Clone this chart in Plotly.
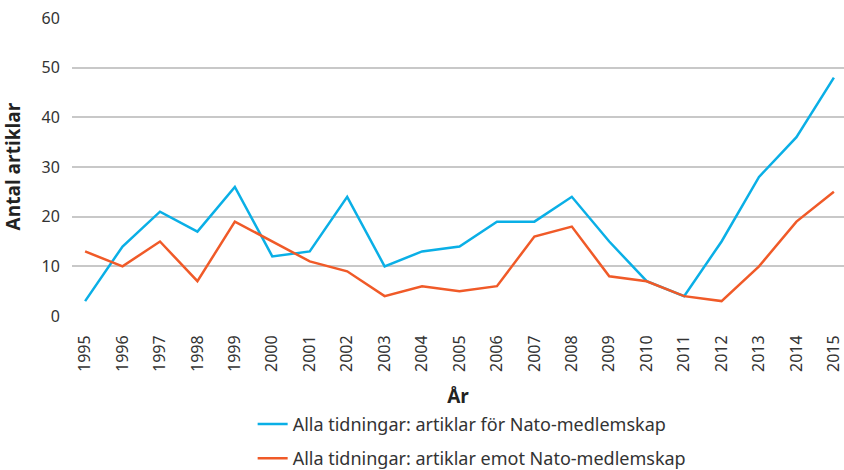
import plotly.graph_objects as go

years = list(range(1995, 2016))
for_nato = [3, 14, 21, 17, 26, 12, 13, 24, 10, 13, 14, 19, 19, 24, 15, 7, 4, 15, 28, 36, 48]
emot_nato = [13, 10, 15, 7, 19, 15, 11, 9, 4, 6, 5, 6, 16, 18, 8, 7, 4, 3, 10, 19, 25]
y_ticks = [0, 10, 20, 30, 40, 50, 60]

fig = go.Figure()

fig.add_trace(go.Scatter(
    x=years, y=for_nato, mode='lines',
    name='Alla tidningar: artiklar för Nato-medlemskap',
    legendgroup='for',
    line=dict(color='#0AAFE6', width=2.5)
))
fig.add_trace(go.Scatter(
    x=years, y=emot_nato, mode='lines',
    name='Alla tidningar: artiklar emot Nato-medlemskap',
    legendgroup='emot',
    line=dict(color='#F05A28', width=2.5)
))

tick_font = dict(family='Noto Sans, Liberation Sans, sans-serif', size=16, color='#333333')

fig.update_layout(
    width=844, height=470,
    margin=dict(l=72, r=0, t=17, b=154, autoexpand=False),
    plot_bgcolor='white',
    paper_bgcolor='white',
    showlegend=True,
    legend=dict(
        x=0.234, y=-0.30, xanchor='left', yanchor='top',
        orientation='v',
        font=dict(family='Noto Sans, Liberation Sans, sans-serif', size=18, color='#333333'),
        tracegroupgap=8, itemwidth=30,
        bgcolor='rgba(0,0,0,0)'
    ),
    xaxis=dict(
        range=[1994.65, 2015.27],
        tickmode='array', tickvals=years, ticktext=[str(y) for y in years],
        tickangle=-90, tickfont=tick_font,
        ticklabeloverflow='allow',
        showgrid=False, zeroline=False, showline=False,
        ticks='outside', ticklen=12, tickcolor='white',
        automargin=False,
        title=dict(text='<b>År</b>', font=dict(family='Open Sans, sans-serif', size=19, color='#222222'), standoff=18),
        fixedrange=True
    ),
    yaxis=dict(
        range=[0, 60.2],
        tickmode='array', tickvals=y_ticks,
        tickfont=tick_font,
        showgrid=True, gridcolor='#C8C8C8', gridwidth=1.5,
        zeroline=False, showline=False, ticks='outside', ticklen=8, tickcolor='white',
        automargin=False,
        title=dict(text='<b>Antal artiklar</b>', font=dict(family='Open Sans, sans-serif', size=19, color='#222222'), standoff=16),
        fixedrange=True
    ),
)

# the page's default body margin would shift the figure by 8px
fig.write_html("out.html", config={'displayModeBar': False},
               post_script="document.body.style.margin='0';")
